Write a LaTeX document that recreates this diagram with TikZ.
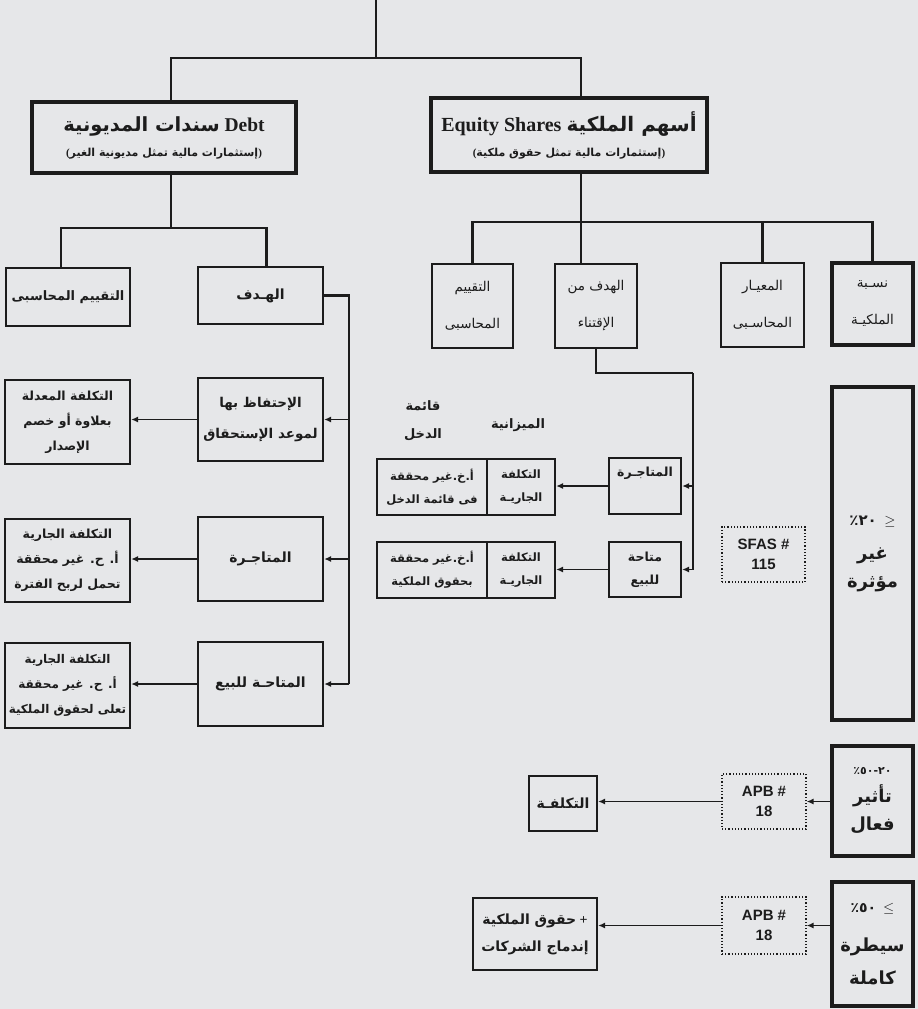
\documentclass[tikz,border=0pt]{standalone}
\usepackage{fontspec}
\usepackage{tikz}
\usetikzlibrary{arrows.meta}
\setmainfont{Liberation Serif}
\newfontfamily\arabicfont[Script=Arabic]{DejaVu Sans}
\newfontfamily\codefont{Liberation Sans}
\TeXXeTstate=1
\newcommand{\artxt}[1]{{\arabicfont\beginR #1\endR}}
\newcommand{\archar}[1]{\hbox{\arabicfont #1}}
\definecolor{paper}{HTML}{E6E7E9}
\definecolor{ink}{HTML}{1C1C1C}

\begin{document}
\begin{tikzpicture}[x=1pt,y=-1pt,
  boxdim/.style 2 args={minimum width=#1pt,minimum height=#2pt},
  lightbox/.style={draw=ink,line width=2.2pt,inner sep=2pt,align=center,text=ink,
    font=\bfseries\fontsize{14}{27}\selectfont},
  heavybox/.style={lightbox,line width=3.6pt},
  plainbox/.style={lightbox,font=\fontsize{13.5}{37}\selectfont},
  resultbox/.style={lightbox,font=\bfseries\fontsize{12.5}{25}\selectfont},
  cellbox/.style={lightbox,font=\bfseries\fontsize{11.5}{23}\selectfont},
  bandbox/.style={heavybox,font=\bfseries\fontsize{18}{28}\selectfont},
  dotbox/.style={draw=ink,line width=1.2pt,dotted,inner sep=2pt,align=center,text=ink,
    font=\codefont\bfseries\fontsize{15}{20}\selectfont},
  tag/.style={align=center,text=ink,font=\bfseries\fontsize{13}{28}\selectfont},
  link/.style={draw=ink,line width=2.2pt},
  arrowlink/.style={draw=ink,line width=1.6pt,-{Latex[length=7pt,width=6pt]}}]

  \path[fill=paper,use as bounding box] (0,0) rectangle (918,1009);

  % top of the tree
  \coordinate (root) at (376,0);
  \coordinate (fork) at (376,58);
  \node[heavybox,boxdim={264}{71}] (debt) at (164,137.5)
    {{\fontsize{19.5}{24}\selectfont\artxt{سندات المديونية}\ Debt}\\[-2pt]
     {\fontsize{11}{14}\selectfont(\artxt{إستثمارات مالية تمثل مديونية الغير})}};
  \node[heavybox,boxdim={276}{74}] (equity) at (569,135)
    {{\fontsize{20}{24}\selectfont Equity Shares \artxt{أسهم الملكية}}\\[-2pt]
     {\fontsize{11}{14}\selectfont(\artxt{إستثمارات مالية تمثل حقوق ملكية})}};
  \draw[link] (root) -- (fork);
  \draw[link] (fork) -| ([xshift=7pt]debt.north);
  \draw[link] (fork) -| ([xshift=12pt]equity.north);

  % debt side
  \coordinate (dfork) at (171,228);
  \coordinate (dbus) at (349,295.5);
  \node[lightbox,font=\bfseries\fontsize{13}{27}\selectfont,boxdim={124}{58}] (dval) at (68,297)
    {\artxt{التقييم المحاسبى}};
  \node[lightbox,boxdim={125}{57}] (dgoal) at (260.5,295.5) {\artxt{الهـدف}};
  \node[lightbox,font=\bfseries\fontsize{13.5}{27}\selectfont,boxdim={125}{83}] (dhold) at (260.5,419.5)
    {\artxt{الإحتفاظ بها}\\[4pt]\artxt{لموعد الإستحقاق}};
  \node[lightbox,boxdim={125}{84}] (dtrade) at (260.5,559) {\artxt{المتاجـرة}};
  \node[lightbox,boxdim={125}{84}] (dafs) at (260.5,684) {\artxt{المتاحـة للبيع}};
  \node[resultbox,boxdim={125}{84}] (dholdres) at (67.5,422)
    {\artxt{التكلفة المعدلة}\\\artxt{بعلاوة أو خصم}\\\artxt{الإصدار}};
  \node[resultbox,boxdim={125}{83}] (dtraderes) at (67.5,560.5)
    {\artxt{التكلفة الجارية}\\\artxt{أ. ح. غير محققة}\\\artxt{تحمل لربح الفترة}};
  \node[resultbox,font=\bfseries\fontsize{12}{25}\selectfont,boxdim={125}{85}] (dafsres) at (67.5,685.5)
    {\artxt{التكلفة الجارية}\\\artxt{أ. ح. غير محققة}\\\artxt{تعلى لحقوق الملكية}};
  \draw[link] ([xshift=7pt]debt.south) -- (dfork);
  \draw[link] (dfork) -| ([xshift=-7pt]dval.north);
  \draw[link] (dfork) -| ([xshift=6pt]dgoal.north);
  \draw[link] (dgoal.east) -- (dbus) -- (dbus |- dafs.east);
  \draw[arrowlink] (dhold.east -| dbus) -- (dhold.east);
  \draw[arrowlink] (dtrade.east -| dbus) -- (dtrade.east);
  \draw[arrowlink] (dafs.east -| dbus) -- (dafs.east);
  \draw[arrowlink] (dhold.west) -- (dhold.west -| dholdres.east);
  \draw[arrowlink] (dtrade.west) -- (dtrade.west -| dtraderes.east);
  \draw[arrowlink] (dafs.west) -- (dafs.west -| dafsres.east);

  % equity side
  \coordinate (efork) at (581,222);
  \coordinate (ebus) at (693,373);
  \node[plainbox,boxdim={81}{84}] (eqval) at (472.5,306) {\artxt{التقييم}\\\artxt{المحاسبى}};
  \node[plainbox,boxdim={82}{84}] (eqgoal) at (596,306) {\artxt{الهدف من}\\\artxt{الإقتناء}};
  \node[plainbox,boxdim={83}{84}] (eqstd) at (762.5,305) {\artxt{المعيـار}\\\artxt{المحاسـبى}};
  \node[heavybox,font=\fontsize{13.5}{37}\selectfont,boxdim={81}{82}] (eqratio) at (872.5,304)
    {\artxt{نسـبة}\\\artxt{الملكيـة}};
  \draw[link] ([xshift=12pt]equity.south) -- (efork) -- (efork |- eqgoal.north);
  \draw[link] (eqval.north) |- (efork) -| (eqratio.north);
  \draw[link] (efork) -| (eqstd.north);

  \node[cellbox,font=\bfseries\fontsize{12.5}{23}\selectfont,boxdim={72}{56}] (eqtrade) at (645,486)
    {\artxt{المتاجـرة}\\[6pt]};
  \node[cellbox,font=\bfseries\fontsize{12.5}{23}\selectfont,boxdim={72}{55}] (eqafs) at (645,569.5)
    {\artxt{متاحة}\\\artxt{للبيع}};
  \node[cellbox,boxdim={68}{56}] (eqtradecost) at (521,487)
    {\artxt{التكلفة}\\\artxt{الجاريـة}};
  \node[cellbox,boxdim={110}{56}] (eqtradegain) at (432,487)
    {\artxt{أ.خ.غير محققة}\\\artxt{فى قائمة الدخل}};
  \node[cellbox,boxdim={68}{56}] (eqafscost) at (521,570)
    {\artxt{التكلفة}\\\artxt{الجاريـة}};
  \node[cellbox,boxdim={110}{56}] (eqafsgain) at (432,570)
    {\artxt{أ.خ.غير محققة}\\\artxt{بحقوق الملكية}};
  \node[tag] (incomelabel) at (423,421) {\artxt{قائمة}\\\artxt{الدخل}};
  \node[tag] (sheetlabel) at (518,425) {\artxt{الميزانية}};
  \draw[link] (eqgoal.south) |- (ebus);
  \draw[arrowlink] (ebus) |- (eqafs.east);
  \draw[arrowlink] (ebus |- eqtrade.east) -- (eqtrade.east);
  \draw[arrowlink] (eqtrade.west) -- (eqtrade.west -| eqtradecost.east);
  \draw[arrowlink] (eqafs.west) -- (eqafs.west -| eqafscost.east);

  % ownership bands
  \node[dotbox,boxdim={83}{55}] (sfas) at (763.5,554.5) {SFAS \#\\115};
  \node[bandbox,boxdim={81}{333}] (insig) at (872.5,553.5)
    {{\fontsize{15}{20}\selectfont\archar{٪}\archar{٢}\archar{٠}\ \ $\geq$}\\[6pt]
     \artxt{غير}\\\artxt{مؤثرة}};
  \node[dotbox,boxdim={84}{55}] (apbone) at (764,801.5) {APB \#\\18};
  \node[bandbox,boxdim={81}{110}] (sig) at (872.5,801)
    {{\fontsize{11}{16}\selectfont\archar{٪}\archar{٥}\archar{٠}\archar{-}\archar{٢}\archar{٠}}\\
     \artxt{تأثير}\\\artxt{فعال}};
  \node[lightbox,boxdim={68}{55}] (cost) at (563,803.5) {\artxt{التكلفـة}};
  \node[dotbox,boxdim={84}{57}] (apbtwo) at (764,925.5) {APB \#\\18};
  \node[bandbox,font=\bfseries\fontsize{18}{33}\selectfont,boxdim={81}{124}] (ctrl) at (872.5,944)
    {{\fontsize{14}{20}\selectfont\archar{٪}\archar{٥}\archar{٠}\ \ $\leq$}\\[6pt]
     \artxt{سيطرة}\\\artxt{كاملة}};
  \node[lightbox,boxdim={124}{72}] (merge) at (535,934)
    {\artxt{حقوق الملكية} +\\\artxt{إندماج الشركات}};
  \draw[arrowlink] (apbone.east -| sig.west) -- (apbone.east);
  \draw[arrowlink] (apbone.west) -- (apbone.west -| cost.east);
  \draw[arrowlink] (apbtwo.east -| ctrl.west) -- (apbtwo.east);
  \draw[arrowlink] (apbtwo.west) -- (apbtwo.west -| merge.east);
\end{tikzpicture}
\end{document}
